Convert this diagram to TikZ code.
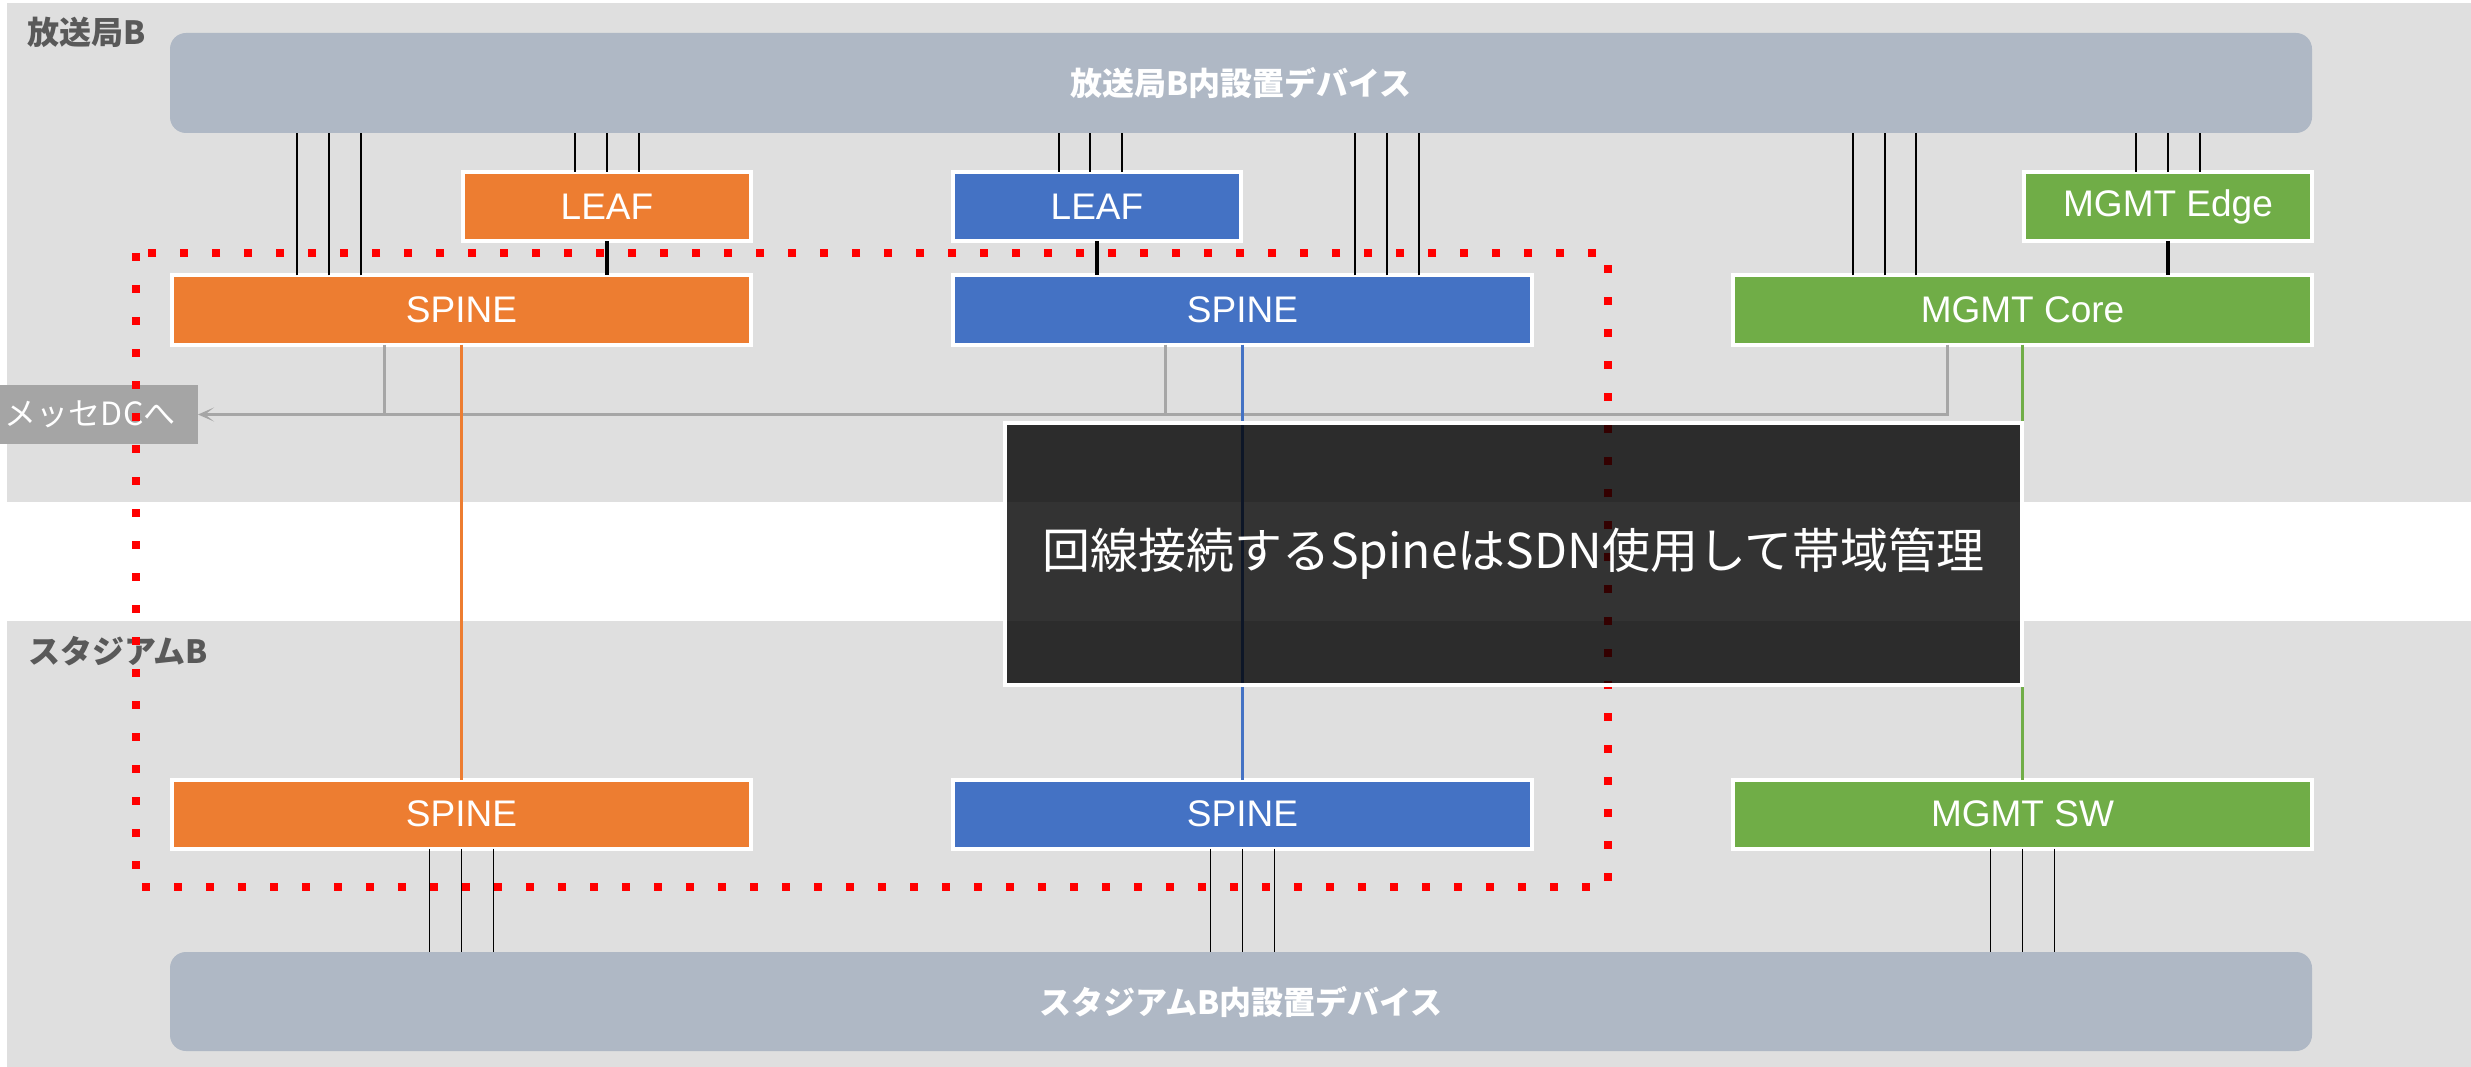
\documentclass[tikz,border=0pt]{standalone}
\usepackage{fontspec}
\setmainfont{Liberation Sans}
\newfontfamily\jp{Noto Sans CJK JP}
\usetikzlibrary{arrows.meta,calc}
\definecolor{band}{HTML}{DFDFDF}
\definecolor{dev}{HTML}{AFB8C5}
\definecolor{org}{HTML}{ED7D31}
\definecolor{blu}{HTML}{4472C4}
\definecolor{grn}{HTML}{70AD47}
\definecolor{lbl}{HTML}{595959}
\definecolor{gln}{HTML}{A6A6A6}
\definecolor{dcb}{HTML}{A5A5A5}
\begin{document}
\begin{tikzpicture}[x=1pt,y=-1pt,
  swbox/.style={draw=white,line width=4pt,inner sep=0pt,outer sep=0pt,minimum height=69pt,text=white,font=\fontsize{37}{40}\selectfont},
  wide/.style={swbox,minimum width=579pt},
  narrow/.style={swbox,minimum width=288pt},
  devbox/.style={fill=dev,rounded corners=16pt,inner sep=0pt,outer sep=0pt,minimum width=2142pt,text=white,font=\jp\bfseries\fontsize{32}{36}\selectfont},
  area/.style={text=lbl,font=\jp\bfseries\fontsize{32}{36}\selectfont,anchor=west,inner sep=0pt},
  thinln/.style={black,line width=1.8pt},
  thickln/.style={black,line width=4pt},
  gline/.style={gln,line width=3pt},
  vline/.style={line width=3pt},
  dotted frame/.style={red,line width=8pt,dash pattern=on 8pt off 24pt},
  notebox/.style={draw=white,line width=4pt,fill=black,fill opacity=0.8,draw opacity=1,text opacity=1,
    minimum width=1017pt,minimum height=262pt,inner sep=0pt,text=white,font=\jp\fontsize{48}{52}\selectfont}
]
\useasboundingbox (0,0) rectangle (2471,1067);
% areas
\fill[band] (7,3) rectangle (2471,502);
\fill[band] (7,621) rectangle (2471,1067);
\node[area] (bandA) at (27,32) {放送局B};
\node[area] (bandB) at (28,651) {スタジアムB};
% devices
\node[devbox,minimum height=100pt] (top) at (1241,83) {放送局B内設置デバイス};
\node[devbox,minimum height=99pt] (bot) at (1241,1001.5) {スタジアムB内設置デバイス};
% switches
\node[narrow,fill=org] (lA) at (607,206.5) {LEAF};
\node[wide,fill=org] (sA) at (461.5,310) {SPINE};
\node[narrow,fill=blu] (lB) at (1097,206.5) {LEAF};
\node[wide,fill=blu] (sB) at (1242.5,310) {SPINE};
\node[narrow,fill=grn] (eG) at (2168,206.5) {MGMT Edge};
\node[wide,fill=grn] (cT) at (2022.5,310) {MGMT Core};
\node[wide,fill=org] (sA2) at (461.5,814) {SPINE};
\node[wide,fill=blu] (sB2) at (1242.5,814) {SPINE};
\node[wide,fill=grn] (sw) at (2022.5,814) {MGMT SW};
% DC box
\node[fill=dcb,anchor=west,minimum height=59pt,text width=188pt,inner xsep=5pt,inner ysep=0pt,outer sep=0pt,align=left,
  text=white,font=\jp\fontsize{32}{36}\selectfont] (dc) at (0,414.5) {メッセDCへ};
% device links
\foreach \n/\dx in {lA/-32,lA/0,lA/32,sA/-164.5,sA/-132.5,sA/-100.5,lB/-38,lB/-7,lB/25,sB/112.5,sB/144.5,sB/176.5,cT/-169.5,cT/-137.5,cT/-106.5,eG/-32,eG/0,eG/32}
  \draw[thinln] ($(\n.north)+(\dx,0)$) -- ($(\n.north |- top.south)+(\dx,0)$);
\foreach \n/\dx in {sA2/-32,sA2/0,sA2/32,sB2/-32,sB2/0,sB2/32,sw/-32,sw/0,sw/32}
  \draw[thinln] ($(\n.south)+(\dx,0)$) -- ($(\n.south |- bot.north)+(\dx,0)$);
% leaf to spine
\draw[thickln] (lA.south) -- (lA.south |- sA.north);
\draw[thickln] (lB.south) -- (lB.south |- sB.north);
\draw[thickln] (eG.south) -- (eG.south |- cT.north);
% to DC
\coordinate (gA) at ([xshift=-77.5pt]sA.south);
\coordinate (gB) at ([xshift=-77.5pt]sB.south);
\coordinate (gC) at ([xshift=-75.5pt]cT.south);
\draw[gline] (gA) -- (gA |- dc.east);
\draw[gline] (gB) -- (gB |- dc.east);
\draw[gline,-{Stealth[length=16pt,width=14pt,inset=9pt]}] (gC) |- (dc.east);
% inter-site links
\draw[vline,org] (sA.south) -- (sA2.north);
\draw[vline,blu] (sB.south) -- (sB2.north);
\draw[vline,grn] (cT.south) -- (sw.north);
% SDN frame
\draw[dotted frame] (136,253) rectangle (1608,887);
% note
\node[notebox] (note) at (1513.5,554) {回線接続するSpineはSDN使用して帯域管理};
\end{tikzpicture}
\end{document}
